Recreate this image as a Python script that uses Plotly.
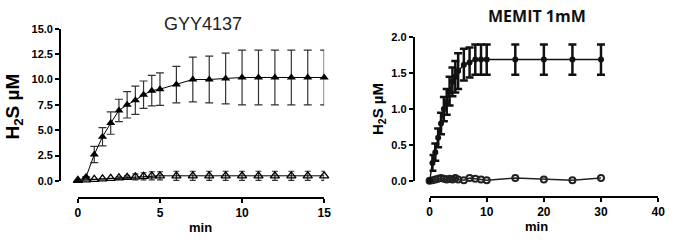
import plotly.graph_objects as go

W, H = 674, 242

# ---- GYY4137 panel data ----
gyy_t = [0, 0.5, 1, 1.5, 2, 2.5, 3, 3.5, 4, 4.5, 5, 6, 7, 8, 9, 10, 11, 12, 13, 14, 15]
gyy_h2s = [0, 0.4, 2.6, 4.35, 5.7, 6.95, 7.5, 7.95, 8.5, 8.9, 9.05, 9.5, 10.0, 10.0, 10.1, 10.2, 10.2, 10.2, 10.2, 10.2, 10.2]
gyy_err = [0, 0, 0.8, 0.9, 1.1, 1.1, 1.3, 1.4, 1.35, 1.5, 1.6, 1.8, 2.2, 2.3, 2.5, 2.7, 2.7, 2.7, 2.7, 2.7, 2.7]
ctl_t = [0, 0.5, 1, 1.5, 2, 2.5, 3, 3.5, 4, 4.5, 5, 6, 7, 8, 9, 10, 11, 12, 13, 14, 15]
ctl_h2s = [0.05, 0.1, 0.15, 0.2, 0.25, 0.3, 0.35, 0.4, 0.45, 0.5, 0.5, 0.5, 0.5, 0.5, 0.5, 0.5, 0.5, 0.5, 0.5, 0.5, 0.5]
ctl_err = [0, 0, 0, 0, 0, 0.1, 0.15, 0.3, 0.35, 0.4, 0.4, 0.45, 0.45, 0.45, 0.45, 0.45, 0.45, 0.45, 0.45, 0.45, 0.45]

# ---- MEMIT panel data ----
mem_t = [0, 0.5, 1, 1.5, 2, 2.5, 3, 3.5, 4, 4.5, 5, 6, 7, 8, 9, 10, 15, 20, 25, 30]
mem_h2s = [0, 0.25, 0.4, 0.6, 0.8, 1.0, 1.1, 1.25, 1.38, 1.45, 1.53, 1.62, 1.65, 1.69, 1.69, 1.69, 1.69, 1.69, 1.69, 1.69]
mem_err = [0, 0.11, 0.12, 0.13, 0.15, 0.17, 0.18, 0.2, 0.2, 0.22, 0.25, 0.22, 0.21, 0.21, 0.21, 0.21, 0.21, 0.21, 0.21, 0.21]
mctl_t = [0, 0.5, 1, 1.5, 2, 2.5, 3, 3.5, 4, 4.5, 5, 6, 7, 8, 9, 10, 15, 20, 25, 30]
mctl_h2s = [0.0, 0.01, 0.02, 0.03, 0.04, 0.03, 0.02, 0.03, 0.02, 0.04, 0.02, 0.01, 0.04, 0.03, 0.02, 0.01, 0.04, 0.02, 0.01, 0.04]

SANS = "Liberation Sans, Arial, sans-serif"
BOLD = dict(family=SANS, color="black", weight="bold")

def fx(px):
    return px / W

def fy(py):
    return 1 - py / H

fig = go.Figure()

# left panel traces
fig.add_trace(go.Scatter(
    x=ctl_t, y=ctl_h2s, mode="lines+markers", xaxis="x", yaxis="y",
    line=dict(color="black", width=1),
    marker=dict(symbol="triangle-up-open", size=8, color="black", line=dict(width=1.3)),
    error_y=dict(type="data", array=ctl_err, color="#333", thickness=1.2, width=3),
    cliponaxis=False, showlegend=False))
fig.add_trace(go.Scatter(
    x=gyy_t, y=gyy_h2s, mode="lines+markers", xaxis="x", yaxis="y",
    line=dict(color="black", width=1),
    marker=dict(symbol="triangle-up", size=8, color="black"),
    error_y=dict(type="data", array=gyy_err, color="#333", thickness=1.2, width=4),
    cliponaxis=False, showlegend=False))

# right panel traces
fig.add_trace(go.Scatter(
    x=mctl_t, y=mctl_h2s, mode="lines+markers", xaxis="x2", yaxis="y2",
    line=dict(color="#222", width=1.5),
    marker=dict(symbol="circle-open", size=6, color="#222", line=dict(width=2)),
    cliponaxis=False, showlegend=False))
fig.add_trace(go.Scatter(
    x=mem_t, y=mem_h2s, mode="lines+markers", xaxis="x2", yaxis="y2",
    line=dict(color="#111", width=1.5),
    marker=dict(symbol="circle", size=6, color="#111"),
    error_y=dict(type="data", array=mem_err, color="#111", thickness=2.5, width=4),
    cliponaxis=False, showlegend=False))

axcommon = dict(showgrid=False, zeroline=False, showline=True, linecolor="black",
                linewidth=2, ticks="outside", tickcolor="black", tickwidth=2, ticklen=4,
                ticklabeloverflow="allow")

fig.update_layout(
    width=W, height=H, margin=dict(l=0, r=0, t=0, b=0),
    paper_bgcolor="white", plot_bgcolor="white",
    xaxis=dict(domain=[fx(76), fx(326)], range=[0, 15], anchor="free", position=fy(202),
               tickvals=[0, 5, 10, 15],
               tickfont=dict(size=12, **BOLD), **axcommon),
    yaxis=dict(domain=[fy(184), fy(24)], range=[0, 15], anchor="free", position=fx(58),
               tickvals=[0, 2.5, 5, 7.5, 10, 12.5, 15], tickformat=".1f",
               tickfont=dict(size=11, **BOLD), **axcommon),
    xaxis2=dict(domain=[fx(433), fx(665)], range=[0, 40], anchor="free", position=fy(201),
                tickvals=[0, 10, 20, 30, 40],
                tickfont=dict(size=12, **BOLD), **axcommon),
    yaxis2=dict(domain=[fy(184), fy(33)], range=[0, 2], anchor="free", position=fx(417),
                tickvals=[0, 0.5, 1, 1.5, 2], tickformat=".1f",
                tickfont=dict(size=11, **BOLD), **axcommon),
)

ann = [
    dict(text="GYY4137", x=fx(203), y=fy(19), font=dict(size=18, family=SANS, color="#222")),
    dict(text="H<sub>2</sub>S µM", x=fx(11), y=fy(106), textangle=-90, font=dict(size=19, **BOLD)),
    dict(text="min", x=fx(200), y=fy(233), font=dict(size=13, **BOLD)),
    dict(text="MEMIT 1mM", x=fx(542), y=fy(11), font=dict(size=16, family="Open Sans, sans-serif", color="#111", weight="bold")),
    dict(text="H<sub>2</sub>S µM", x=fx(381), y=fy(108), textangle=-90, font=dict(size=15, **BOLD)),
    dict(text="min", x=fx(542), y=fy(232), font=dict(size=13, **BOLD)),
]
for a in ann:
    fig.add_annotation(xref="paper", yref="paper", showarrow=False,
                       xanchor="center", yanchor="middle", **a)

fig.write_html("out.html", config={"displayModeBar": False},
               post_script="document.body.style.margin='0';document.body.style.overflow='hidden';")
